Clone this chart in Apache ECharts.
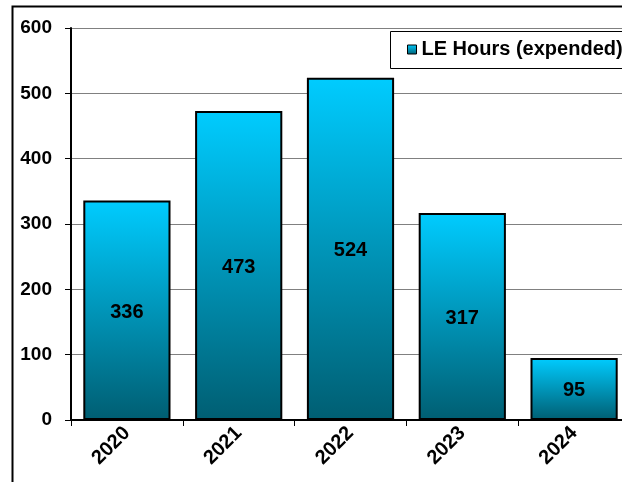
<!DOCTYPE html>
<html>
<head>
<meta charset="utf-8">
<script src="https://cdn.jsdelivr.net/npm/echarts@6/dist/echarts.min.js"></script>
<style>
html,body{margin:0;padding:0;background:#fff;}
#chart{width:622px;height:482px;}
</style>
</head>
<body>
<div id="chart"></div>
<script>
var categories = ['2020', '2021', '2022', '2023', '2024'];
var hours = [336, 473, 524, 317, 95];
var seriesName = 'LE Hours (expended)';
var yTicks = {min: 0, max: 600, interval: 100};

var chart = echarts.init(document.getElementById('chart'), null, {renderer: 'canvas'});
var font = 'Liberation Sans, Arial, sans-serif';
var grad = new echarts.graphic.LinearGradient(0, 0, 0, 1, [
  {offset: 0, color: '#00CCFF'},
  {offset: 1, color: '#005E72'}
]);
chart.setOption({
  animation: false,
  backgroundColor: '#ffffff',
  graphic: [{
    type: 'rect',
    left: 10, top: 4,
    shape: {width: 700, height: 600},
    style: {fill: 'none', stroke: '#000', lineWidth: 2},
    silent: true
  }, {
    type: 'rect',
    left: 390, top: 31,
    shape: {width: 300, height: 37},
    style: {fill: '#fff', stroke: '#000', lineWidth: 1},
    z: 3,
    silent: true
  }],
  grid: {left: 71, top: 28, width: 559, height: 392, containLabel: false, outerBoundsMode: 'none'},
  legend: {
    left: 390, top: 31,
    icon: 'rect',
    itemWidth: 9, itemHeight: 9, itemGap: 5,
    padding: [8, 2, 8, 17],
    z: 5,
    textStyle: {fontFamily: font, fontWeight: 'bold', fontSize: 20, color: '#000', lineHeight: 21},
    itemStyle: {borderColor: '#000', borderWidth: 1},
    data: [seriesName]
  },
  xAxis: {
    type: 'category',
    data: categories,
    axisLine: {lineStyle: {color: '#000', width: 2}},
    axisTick: {show: true, length: 6, lineStyle: {color: '#000', width: 1}},
    axisLabel: {rotate: 45, margin: 10, fontFamily: font, fontWeight: 'bold', fontSize: 20, color: '#000'},
    splitLine: {show: false}
  },
  yAxis: {
    type: 'value',
    min: yTicks.min, max: yTicks.max, interval: yTicks.interval,
    axisLine: {show: true, lineStyle: {color: '#000', width: 2}},
    axisTick: {show: true, length: 6, lineStyle: {color: '#000', width: 1}},
    axisLabel: {margin: 19, fontFamily: font, fontWeight: 'bold', fontSize: 19, color: '#000'},
    splitLine: {show: true, lineStyle: {color: '#808080', width: 1}}
  },
  series: [{
    name: seriesName,
    type: 'bar',
    data: hours,
    barCategoryGap: '22%',
    itemStyle: {color: grad, borderColor: '#000', borderWidth: 2},
    label: {
      show: true, position: 'inside', offset: [0, 2],
      fontFamily: font, fontWeight: 'bold', fontSize: 20, color: '#000'
    }
  }]
});
</script>
</body>
</html>
